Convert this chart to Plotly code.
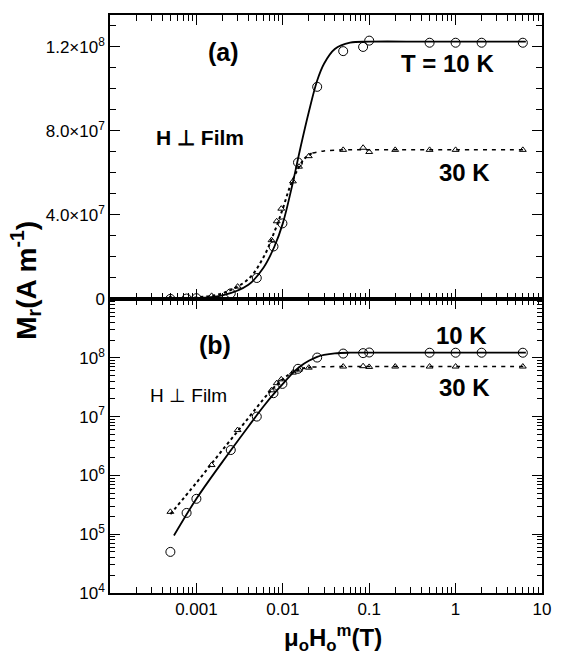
import plotly.graph_objects as go

# ---- data ----
H_10K = [0.0005, 0.00077, 0.001, 0.0025, 0.005, 0.0078, 0.0099, 0.015, 0.025, 0.05, 0.085, 0.1, 0.5, 1, 2, 6]
M_10K = [5e4, 2.3e5, 4e5, 2.7e6, 1.0e7, 2.5e7, 3.6e7, 6.5e7, 1.01e8, 1.18e8, 1.2e8, 1.23e8, 1.22e8, 1.22e8, 1.22e8, 1.22e8]

H_30K = [0.0005, 0.0015, 0.003, 0.0074, 0.0085, 0.0096, 0.0131, 0.0154, 0.02, 0.05, 0.085, 0.1, 0.2, 0.5, 1, 6]
M_30K = [2.4e5, 1.5e6, 5.9e6, 2.8e7, 3.7e7, 4.3e7, 5.6e7, 6.3e7, 6.8e7, 7.1e7, 7.2e7, 7.0e7, 7.1e7, 7.1e7, 7.1e7, 7.1e7]

# fitted curves (vertices)
fit10_H = [0.00055, 0.001, 0.002, 0.004, 0.006, 0.008, 0.01, 0.013, 0.016, 0.02, 0.025, 0.03, 0.04, 0.06, 0.1, 0.5, 6.5]
fit10_M = [9.5e4, 4.0e5, 1.7e6, 6.8e6, 1.5e7, 2.5e7, 3.6e7, 5.5e7, 7.2e7, 8.9e7, 1.04e8, 1.12e8, 1.19e8, 1.22e8, 1.225e8, 1.225e8, 1.225e8]

fit30a_H = [0.0005, 0.001, 0.002, 0.004, 0.006, 0.008, 0.01, 0.012, 0.015, 0.018, 0.022]
fit30a_M = [2.2e5, 7.5e5, 2.7e6, 9.5e6, 2.0e7, 3.2e7, 4.3e7, 5.3e7, 6.2e7, 6.7e7, 6.95e7]
fit30b_H = [0.022, 0.03, 0.05, 0.1, 1, 6.5]
fit30b_M = [6.95e7, 7.05e7, 7.1e7, 7.1e7, 7.1e7, 7.1e7]

x_tickvals = [1e-4, 1e-3, 1e-2, 1e-1, 1, 10]
x_ticktext = ["", "0.001", "0.01", "0.1", "1", "10"]
top_tickvals = [0, 4e7, 8e7, 1.2e8]
top_ticktext = ["0", "4.0×10<sup>7</sup>", "8.0×10<sup>7</sup>", "1.2×10<sup>8</sup>"]
bot_tickvals = [1e4, 1e5, 1e6, 1e7, 1e8, 1e9]
bot_ticktext = ["10<sup>4</sup>", "10<sup>5</sup>", "10<sup>6</sup>", "10<sup>7</sup>", "10<sup>8</sup>", ""]

FONT = "Liberation Sans, Arial, Helvetica, sans-serif"
fig = go.Figure()

for xa, ya in [("x", "y"), ("x2", "y2")]:
    fig.add_trace(go.Scatter(x=fit10_H, y=fit10_M, mode="lines", line=dict(color="black", width=1.8, shape="spline"),
                             xaxis=xa, yaxis=ya, showlegend=False, hoverinfo="skip"))
    fig.add_trace(go.Scatter(x=fit30a_H, y=fit30a_M, mode="lines", line=dict(color="black", width=2, dash="dot", shape="spline"),
                             xaxis=xa, yaxis=ya, showlegend=False, hoverinfo="skip"))
    fig.add_trace(go.Scatter(x=fit30b_H, y=fit30b_M, mode="lines", line=dict(color="black", width=1.5, dash="4px,5px", shape="spline"),
                             xaxis=xa, yaxis=ya, showlegend=False, hoverinfo="skip"))
    fig.add_trace(go.Scatter(x=H_10K, y=M_10K, mode="markers",
                             marker=dict(symbol="circle-open", size=9, color="black", line=dict(width=1)),
                             xaxis=xa, yaxis=ya, showlegend=False))
    fig.add_trace(go.Scatter(x=H_30K, y=M_30K, mode="markers",
                             marker=dict(symbol="triangle-up-open", size=6, color="black", line=dict(width=1)),
                             xaxis=xa, yaxis=ya, showlegend=False))

split = 294 / 578
common_axis = dict(showline=True, linecolor="black", linewidth=1.5, mirror="ticks", ticks="inside",
                   tickcolor="black", showgrid=False, zeroline=False)
TICKFONT = dict(family=FONT, size=17, color="black")

fig.update_layout(
    width=562, height=655,
    margin=dict(l=110, r=11, t=15, b=62),
    paper_bgcolor="white", plot_bgcolor="white",
    font=dict(family=FONT, size=17, color="black"),
    xaxis=dict(type="log", range=[-4, 1], domain=[0, 1], anchor="y",
               tickmode="array", tickvals=x_tickvals, ticktext=x_ticktext, ticklen=10, tickwidth=1,
               minor=dict(ticks="inside", ticklen=6, dtick="D1", tickcolor="black", showgrid=False),
               tickfont=TICKFONT, **common_axis),
    yaxis=dict(type="log", range=[4, 9], domain=[0, split], anchor="x",
               tickmode="array", tickvals=bot_tickvals, ticktext=bot_ticktext, ticklen=10, tickwidth=1,
               minor=dict(ticks="inside", ticklen=5, dtick="D1", tickcolor="black", showgrid=False),
               tickfont=TICKFONT, **common_axis),
    xaxis2=dict(type="log", range=[-4, 1], domain=[0, 1], anchor="y2", matches="x",
                tickmode="array", tickvals=x_tickvals, ticktext=x_ticktext, showticklabels=False, ticklen=10, tickwidth=1,
                minor=dict(ticks="inside", ticklen=6, dtick="D1", tickcolor="black", showgrid=False),
                **common_axis),
    yaxis2=dict(range=[0, 1.352e8], domain=[split, 1], anchor="x2",
                tickmode="array", tickvals=top_tickvals, ticktext=top_ticktext, ticklen=10, tickwidth=1,
                minor=dict(ticks="inside", ticklen=6, dtick=1e7, tick0=0, tickcolor="black", showgrid=False),
                tickfont=TICKFONT, **common_axis),
)

def px(xp, yp):
    return (xp - 110) / 441, (593 - yp) / 578

annos = [
    ("<b>(a)</b>", 226, 52, 25),
    ("<b>H ⊥ Film</b>", 202, 137, 21),
    ("<b>T = 10 K</b>", 455, 64, 24),
    ("<b>30 K</b>", 472, 172, 24),
    ("<b>(b)</b>", 217, 345, 25),
    ("H ⊥ Film", 190, 395, 19),
    ("<b>10 K</b>", 469, 335, 24),
    ("<b>30 K</b>", 472, 387, 24),
    ("<b>μ<sub>o</sub>H<sub>o</sub><sup>m</sup>(T)</b>", 338, 638, 24),
]
for text, xp, yp, sz in annos:
    xx, yy = px(xp, yp)
    fig.add_annotation(text=text, x=xx, y=yy, xref="paper", yref="paper", showarrow=False,
                       font=dict(family=FONT, size=sz, color="black"), xanchor="center", yanchor="middle")

xx, yy = px(24, 280)
fig.add_annotation(text="<b>M<sub>r</sub>(A m<sup>-1</sup>)</b>", x=xx, y=yy, xref="paper", yref="paper",
                   showarrow=False, textangle=-90, font=dict(family=FONT, size=28, color="black"),
                   xanchor="center", yanchor="middle")

fig.write_html("out.html")
